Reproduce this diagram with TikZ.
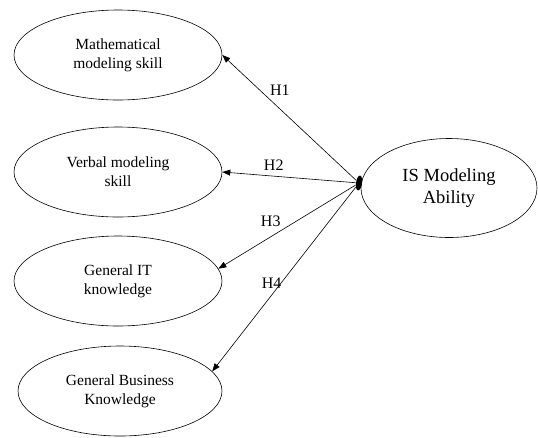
\documentclass[tikz,border=0pt]{standalone}
\usepackage{fontspec}
\setmainfont{Liberation Serif}
\usetikzlibrary{arrows.meta,shapes.geometric}

\begin{document}
\begin{tikzpicture}[x=1pt,y=-1pt,->,>={Triangle[length=8pt,width=6pt]},auto,line width=0.6pt,
                    main node/.style={ellipse,draw,inner sep=0pt,minimum width=208pt,minimum height=90pt,align=center,font=\fontsize{15.5}{19}\selectfont},
                    big node/.style={ellipse,draw,inner sep=0pt,minimum width=176pt,minimum height=99pt,align=center,font=\fontsize{18.5}{22}\selectfont}]
                    \useasboundingbox (0,0) rectangle (538,437);

                    \node[main node] (1) at (118,55) {Mathematical\\modeling skill};
                    \node[main node] (2) at (118,172) {Verbal modeling\\skill};
                    \node[main node] (3) at (118,281) {General IT\\knowledge};
                    \node[main node,minimum width=204pt] (4) at (120,391) {General Business\\Knowledge};

                    \node[big node] (5) at (449,188) {IS Modeling\\Ability};
                    \node[ellipse,fill=black,inner sep=0pt,minimum width=6pt,minimum height=15pt,rotate=-8] (hub) at (359,183) {};

                    \path[every node/.style={font=\fontsize{16}{19}\selectfont,inner sep=2pt}]
                            (hub) edge [swap] node [pos=0.66] {H1} (1.east)
                            (hub) edge [swap] node [pos=0.72,inner sep=4pt] {H2} (2.east)
                            (hub) edge [swap] node [pos=0.53] {H3} (3.7)
                            (hub) edge [swap] node [pos=0.55,inner sep=0pt,xshift=5pt] {H4} (4.12)
                        ;
                \end{tikzpicture}
\end{document}
